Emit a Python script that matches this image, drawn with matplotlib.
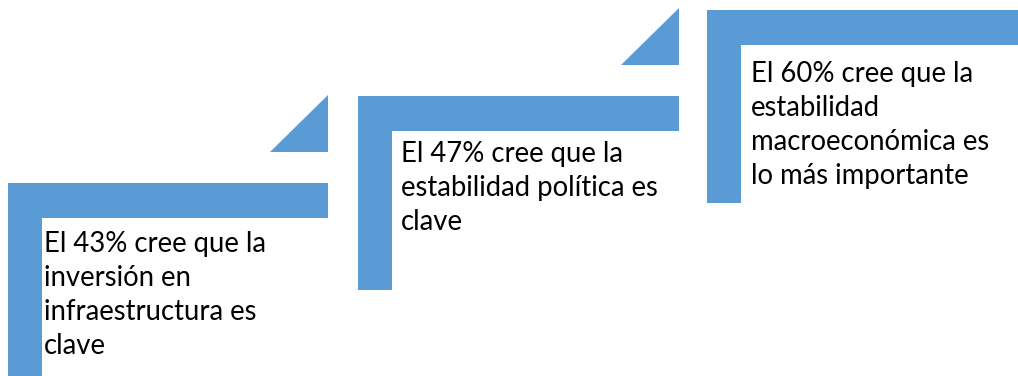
import matplotlib.pyplot as plt
from matplotlib.patches import Polygon

# porcentaje y texto de cada paso
porcentajes = [43, 47, 60]
textos = [
    "El {}% cree que la\ninversión en\ninfraestructura es\nclave",
    "El {}% cree que la\nestabilidad política es\nclave",
    "El {}% cree que la\nestabilidad\nmacroeconómica es\nlo más importante",
]

AZUL = "#5B9BD5"
W, H = 1018, 376

fig = plt.figure(figsize=(W / 100, H / 100), dpi=100)
ax = fig.add_axes([0, 0, 1, 1])
ax.set_xlim(0, W)
ax.set_ylim(H, 0)
ax.axis("off")

# (x izquierda, y arriba, x derecha, y abajo del brazo vertical)
pasos = [(8, 183, 328, 376), (358, 96, 679, 290), (707, 10, 1018, 203)]
# desplazamiento del texto dentro de cada escuadra
margen_txt = [(36, 48), (43, 45), (44, 51)]
grosor = 35

for i, (pct, txt) in enumerate(zip(porcentajes, textos)):
    x0, y0, x1, yb = pasos[i]
    # escuadra: barra horizontal + barra vertical
    ax.add_patch(Polygon([(x0, y0), (x1, y0), (x1, y0 + grosor),
                          (x0 + 34, y0 + grosor), (x0 + 34, yb), (x0, yb)],
                         closed=True, facecolor=AZUL, edgecolor="none"))
    # flecha triangular hacia el siguiente paso
    if i < len(pasos) - 1:
        ax.add_patch(Polygon([(x1 - 58, y0 - 31), (x1, y0 - 31), (x1, y0 - 88)],
                             closed=True, facecolor=AZUL, edgecolor="none"))
    dx, dy = margen_txt[i]
    ax.text(x0 + dx, y0 + dy, txt.format(pct), ha="left", va="top",
            fontsize=19.8, family="Lato", color="black", linespacing=1.38)

fig.savefig("out.png", dpi=100)
